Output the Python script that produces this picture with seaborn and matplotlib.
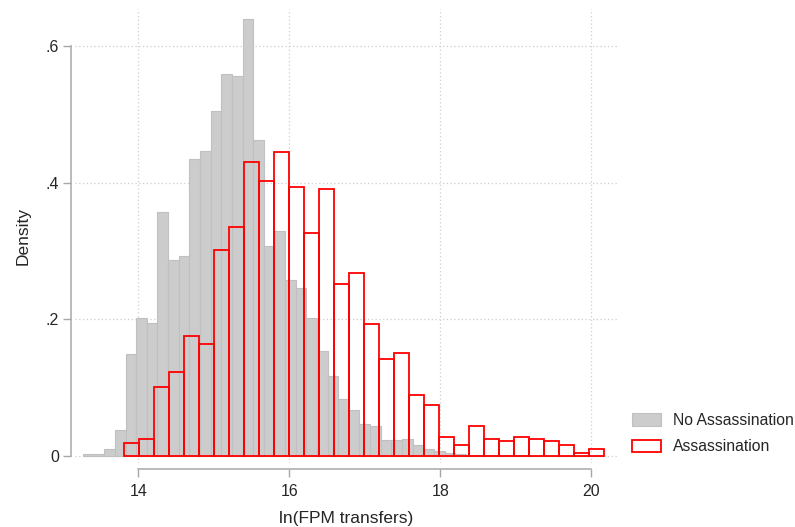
import numpy as np
import pandas as pd
import matplotlib
matplotlib.use("Agg")
import matplotlib.pyplot as plt
from matplotlib.patches import Patch
import seaborn as sns

# Histogram densities of ln(FPM transfers), by group
# No Assassination: 49 bins starting at 13.268, width 0.1408
no_assassination_start = 13.268
no_assassination_width = 0.1408
no_assassination_density = [
    0.0025, 0.0034, 0.0107, 0.0385, 0.149, 0.202, 0.195, 0.357, 0.287, 0.292,
    0.434, 0.446, 0.505, 0.559, 0.556, 0.640, 0.462, 0.308, 0.329, 0.2575,
    0.246, 0.2014, 0.1536, 0.117, 0.0834, 0.0673, 0.0468, 0.0439, 0.023, 0.0235,
    0.0249, 0.016, 0.0107, 0.0073, 0.0044, 0.003, 0.0022, 0.002, 0.0015, 0.0012,
    0.0015, 0.001, 0.0008, 0.0006, 0.0006, 0.0008, 0.0004, 0.0003, 0.0003,
]

# Assassination: 32 bins starting at 13.811, width 0.1987
assassination_start = 13.811
assassination_width = 0.1987
assassination_density = [
    0.0185, 0.0249, 0.1014, 0.1229, 0.175, 0.1634, 0.3014, 0.335, 0.4297, 0.4023,
    0.4453, 0.3931, 0.3258, 0.3902, 0.2521, 0.2673, 0.1936, 0.1414, 0.1502, 0.0892,
    0.0741, 0.0283, 0.0156, 0.0439, 0.0254, 0.0215, 0.0283, 0.0254, 0.0219, 0.0156,
    0.0044, 0.0098,
]

x_ticks = [14, 16, 18, 20]
y_ticks = [0, 0.2, 0.4, 0.6]
y_ticklabels = ["0", ".2", ".4", ".6"]
legend_labels = ["No Assassination", "Assassination"]


def bin_table(start, width, density):
    n = len(density)
    edges = start + width * np.arange(n + 1)
    centers = (edges[:-1] + edges[1:]) / 2
    return pd.DataFrame({"x": centers, "density": density}), [float(e) for e in edges]


sns.set_theme(style="white")
plt.rcParams["font.family"] = ["Liberation Sans", "DejaVu Sans"]

fig = plt.figure(figsize=(7.95, 5.27), dpi=100)
ax = fig.add_axes([0.0943, 0.1214, 0.682, 0.8615])

df_no, edges_no = bin_table(no_assassination_start, no_assassination_width,
                            no_assassination_density)
df_yes, edges_yes = bin_table(assassination_start, assassination_width,
                              assassination_density)

sns.histplot(data=df_no, x="x", weights="density", bins=edges_no, stat="count",
             color="#cccccc", edgecolor="#c0c0c0", linewidth=0.8, alpha=1,
             ax=ax, zorder=2)
sns.histplot(data=df_yes, x="x", weights="density", bins=edges_yes, stat="count",
             fill=False, color="#ff0000", linewidth=1.3, ax=ax, zorder=3)

ax.set_xlim(13.162, 20.34)
ax.set_ylim(-0.0102, 0.654)
ax.set_xticks(x_ticks)
ax.set_xticklabels([str(t) for t in x_ticks])
ax.set_yticks(y_ticks)
ax.set_yticklabels(y_ticklabels)

grid_kw = dict(color="#cfcfcf", linewidth=0.9, linestyle=(0, (1.0, 2.0)), zorder=0)
ax.grid(True, axis="both", **grid_kw)
ax.set_axisbelow(True)

ax.set_xlabel("ln(FPM transfers)", fontsize=12.5, labelpad=8.5)
ax.set_ylabel("Density", fontsize=12.5, labelpad=11)

ax.tick_params(axis="both", which="major", direction="out", length=5.5,
               width=1.0, color="#a8a8a8", labelsize=11.5, pad=3,
               bottom=True, left=True)
ax.tick_params(axis="x", pad=5)

sns.despine(ax=ax, offset={"left": 3, "bottom": 4.5}, trim=True)
for side in ("left", "bottom"):
    ax.spines[side].set_color("#a8a8a8")
    ax.spines[side].set_linewidth(1.1)

handles = [
    Patch(facecolor="#cccccc", edgecolor="#c0c0c0", linewidth=0.8),
    Patch(facecolor="none", edgecolor="#ff0000", linewidth=1.3),
]
fig.legend(handles, legend_labels, loc="upper left",
           bbox_to_anchor=(0.7775, 0.243), frameon=False, fontsize=11.3,
           handlelength=1.85, handleheight=0.85, handletextpad=0.72,
           labelspacing=0.72)

fig.savefig("out.png", dpi=100)
